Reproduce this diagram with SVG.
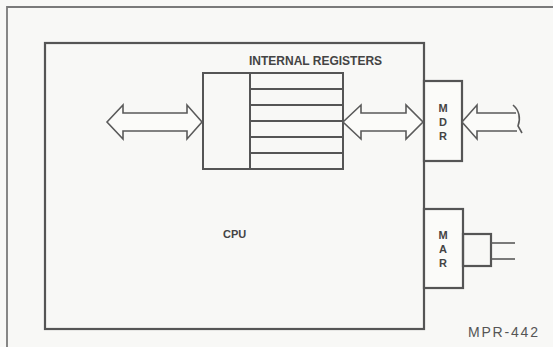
<svg xmlns="http://www.w3.org/2000/svg" width="553" height="347" viewBox="0 0 553 347">
  <style>
    .box { fill: none; stroke: #555; stroke-width: 2.2; }
    .wbox { fill: #fbfbf9; stroke: #555; stroke-width: 2.2; }
    .reg { fill: none; stroke: #555; stroke-width: 2; }
    .arrow { fill: #fbfbf9; stroke: #5a5a5a; stroke-width: 1.6; stroke-linejoin: miter; }
    .line { fill: none; stroke: #5a5a5a; stroke-width: 1.6; }
    .frame { fill: none; stroke: #7a7a7a; stroke-width: 1.8; }
    .lbl { font-family: "Liberation Sans", Arial, sans-serif; font-weight: bold; fill: #444; }
    .cap { font-family: "Liberation Sans", Arial, sans-serif; fill: #555; }
  </style>
  <rect x="0" y="0" width="553" height="347" fill="#f8f8f6"/>
  <g id="page-frame">
    <path class="frame" d="M7,347 L7,7 L553,7"/>
  </g>

  <g id="cpu">
    <rect class="box" x="45" y="43" width="379" height="286"/>
    <text class="lbl" x="223" y="238" font-size="11">CPU</text>
  </g>

  <g id="internal-registers">
    <text class="lbl" x="249" y="65" font-size="12">INTERNAL REGISTERS</text>
    <rect class="reg" x="203" y="73" width="140" height="96"/>
    <line class="reg" x1="250" y1="73" x2="250" y2="169"/>
    <line class="reg" x1="250" y1="89" x2="343" y2="89"/>
    <line class="reg" x1="250" y1="105" x2="343" y2="105"/>
    <line class="reg" x1="250" y1="121" x2="343" y2="121"/>
    <line class="reg" x1="250" y1="137" x2="343" y2="137"/>
    <line class="reg" x1="250" y1="153" x2="343" y2="153"/>
  </g>

  <g id="mdr">
    <rect class="wbox" x="424" y="81" width="38" height="80"/>
    <text class="lbl" x="443" y="112" font-size="11" text-anchor="middle" fill="#555">M</text>
    <text class="lbl" x="443" y="126" font-size="11" text-anchor="middle" fill="#555">D</text>
    <text class="lbl" x="443" y="140" font-size="11" text-anchor="middle" fill="#555">R</text>
  </g>

  <g id="mar">
    <rect class="wbox" x="424" y="209" width="39" height="79"/>
    <text class="lbl" x="443" y="239" font-size="11" text-anchor="middle" fill="#555">M</text>
    <text class="lbl" x="443" y="253" font-size="11" text-anchor="middle" fill="#555">A</text>
    <text class="lbl" x="443" y="267" font-size="11" text-anchor="middle" fill="#555">R</text>
  </g>

  <g id="mar-port">
    <rect class="box" x="463" y="234" width="28" height="32"/>
  </g>

  <g id="connectors">
    <polygon class="arrow" points="107,122 123,105 123,113 187,113 187,105 202,122 187,139 187,131 123,131 123,139"/>
    <polygon class="arrow" points="343,122 361,105 361,113 406,113 406,105 423,122 406,139 406,131 361,131 361,139"/>
    <polygon points="462,122 477,105 477,113 516,113 519,120 517,131 477,131 477,139" fill="#fbfbf9" stroke="none"/>
    <path class="line" d="M516,113 L477,113 L477,105 L462,122 L477,139 L477,131 L517,131"/>
    <path class="line" d="M513,105 C519,110 521,118 518,126 L522,133"/>
    <line class="line" x1="491" y1="243" x2="515" y2="243"/>
    <line class="line" x1="491" y1="259" x2="515" y2="259"/>
  </g>

  <text class="cap" x="468" y="337" font-size="14" letter-spacing="1.8">MPR-442</text>
</svg>
